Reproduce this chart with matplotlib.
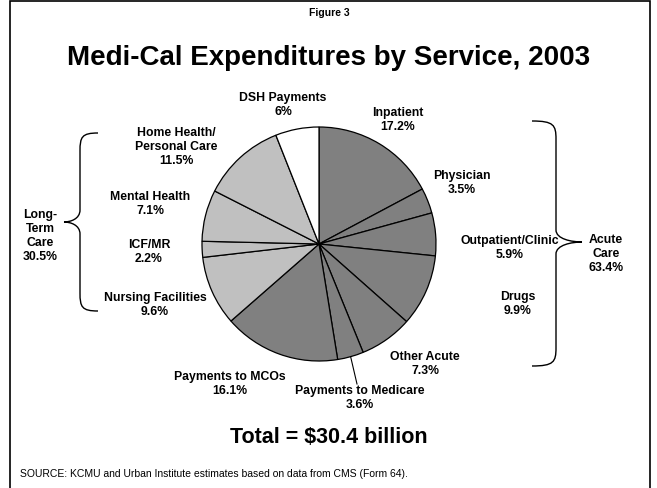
import numpy as np
import matplotlib
matplotlib.use("Agg")
import matplotlib.pyplot as plt
from matplotlib.path import Path
from matplotlib.patches import PathPatch, Rectangle

plt.rcParams['font.family'] = ['Liberation Sans', 'DejaVu Sans']

# -------------------------------
# Data
# -------------------------------
services = ["Inpatient", "Physician", "Outpatient/Clinic", "Drugs", "Other Acute",
            "Payments to Medicare", "Payments to MCOs", "Nursing Facilities",
            "ICF/MR", "Mental Health", "Home Health/\nPersonal Care", "DSH Payments"]
shares = [17.2, 3.5, 5.9, 9.9, 7.3, 3.6, 16.1, 9.6, 2.2, 7.1, 11.5, 6.0]
share_labels = ["17.2%", "3.5%", "5.9%", "9.9%", "7.3%", "3.6%", "16.1%",
                "9.6%", "2.2%", "7.1%", "11.5%", "6%"]
groups = ["acute"] * 7 + ["ltc"] * 4 + ["dsh"]
group_labels = {"acute": "Acute\nCare\n63.4%", "ltc": "Long-\nTerm\nCare\n30.5%"}

W, H = 657, 489
group_colors = {"acute": "#808080", "ltc": "#c0c0c0", "dsh": "#ffffff"}

# label positions in pixels (x, y from top)
label_pos = [(398, 120), (462, 183), (510, 248), (518, 304), (425, 364),
             (360, 398), (230, 384), (155, 305), (149, 252), (150, 204),
             (176, 147), (283, 105)]

fig = plt.figure(figsize=(W / 100, H / 100), dpi=100)
ax = fig.add_axes([0, 0, 1, 1])
ax.set_xlim(0, W)
ax.set_ylim(0, H)
ax.set_aspect("equal")
ax.axis("off")

# border box
ax.add_patch(Rectangle((10, -5), 640, H - 2 + 5, fill=False, edgecolor="black", linewidth=1.2))

# -------------------------------
# Pie
# -------------------------------
cx, cy, r = 319, H - 245, 117
ax.pie(shares, colors=[group_colors[g] for g in groups], startangle=90,
       counterclock=False, center=(cx, cy), radius=r,
       wedgeprops={"edgecolor": "black", "linewidth": 0.9})
ax.set_xlim(0, W)
ax.set_ylim(0, H)

for name, lab, (x, y) in zip(services, share_labels, label_pos):
    ax.text(x, H - y, name + "\n" + lab, ha="center", va="center",
            fontsize=8.8, fontweight="bold", linespacing=1.2)

# leader line for Payments to Medicare
before = sum(shares[:5]) + shares[5] / 2
ang = np.deg2rad(90 - before / sum(shares) * 360)
ax.plot([cx + r * np.cos(ang), 357], [cy + r * np.sin(ang), H - 385],
        color="black", linewidth=0.8)


# -------------------------------
# Braces
# -------------------------------
def brace(x_end, x_mid, x_tip, y_top, y_bot, y_tip):
    # curly brace; x_end = tips of the arms, x_mid = vertical stroke, x_tip = middle point
    d = 0.6
    verts = [(x_end, y_top),
             (x_mid + (x_end - x_mid) * 0.1, y_top), (x_mid, y_top - 4), (x_mid, y_top - 18),
             (x_mid, y_tip + 12),
             (x_mid, y_tip + 3), (x_mid - (x_mid - x_tip) * d, y_tip), (x_tip, y_tip),
             (x_mid - (x_mid - x_tip) * d, y_tip), (x_mid, y_tip - 3), (x_mid, y_tip - 12),
             (x_mid, y_bot + 18),
             (x_mid, y_bot + 4), (x_mid + (x_end - x_mid) * 0.1, y_bot), (x_end, y_bot)]
    codes = [Path.MOVETO, Path.CURVE4, Path.CURVE4, Path.CURVE4, Path.LINETO,
             Path.CURVE4, Path.CURVE4, Path.CURVE4, Path.CURVE4, Path.CURVE4, Path.CURVE4,
             Path.LINETO, Path.CURVE4, Path.CURVE4, Path.CURVE4]
    ax.add_patch(PathPatch(Path(verts, codes), fill=False, edgecolor="black", linewidth=1.0))


brace(98, 80, 64, H - 134, H - 312, H - 223)
brace(532, 556, 582, H - 122, H - 367, H - 243)

ax.text(40, H - 236, group_labels["ltc"], ha="center", va="center",
        fontsize=8.8, fontweight="bold", linespacing=1.2)
ax.text(606, H - 254, group_labels["acute"], ha="center", va="center",
        fontsize=8.8, fontweight="bold", linespacing=1.2)

# -------------------------------
# Titles and notes
# -------------------------------
ax.text(329, H - 13, "Figure 3", ha="center", va="center", fontsize=7.5, fontweight="bold")
ax.text(329, H - 58, "Medi-Cal Expenditures by Service, 2003", ha="center", va="center",
        fontsize=20, fontweight="bold")
ax.text(329, H - 438, "Total = $30.4 billion", ha="center", va="center",
        fontsize=15.5, fontweight="bold")
ax.text(20, H - 474, "SOURCE: KCMU and Urban Institute estimates based on data from CMS (Form 64).",
        ha="left", va="center", fontsize=7.5)

fig.savefig("out.png", dpi=100)
